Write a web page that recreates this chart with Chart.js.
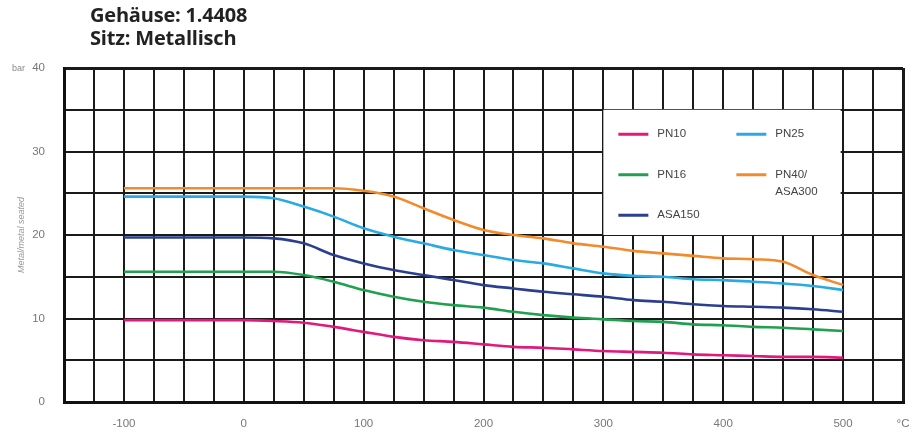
<!DOCTYPE html>
<html>
<head>
<meta charset="utf-8">
<script src="https://cdn.jsdelivr.net/npm/chart.js@4/dist/chart.umd.min.js"></script>
<style>
  html, body { margin: 0; padding: 0; background: #fff; }
  #wrap { position: relative; width: 916px; height: 435px; }
  #head { position: absolute; left: 90px; top: 3px; font-family: "Open Sans", sans-serif; font-weight: 700; font-size: 20px; line-height: 23px; color: #222; letter-spacing: -0.2px; z-index: 2; }
</style>
</head>
<body>
<div id="wrap">
  <div id="head">Gehäuse: 1.4408<br>Sitz: Metallisch</div>
  <canvas id="chart" width="916" height="435"></canvas>
</div>
<script>
// Temperature points (°C) and pressure ratings (bar)
const temps  = [-100, 0, 25, 50, 75, 100, 125, 150, 175, 200, 225, 250, 275, 300, 325, 350, 375, 400, 425, 450, 475, 500];
const pn10   = [9.8, 9.8, 9.7, 9.5, 9.0, 8.4, 7.8, 7.4, 7.2, 6.9, 6.6, 6.5, 6.3, 6.1, 6.0, 5.9, 5.7, 5.6, 5.5, 5.4, 5.4, 5.3];
const pn16   = [15.6, 15.6, 15.6, 15.2, 14.4, 13.4, 12.6, 12.0, 11.6, 11.3, 10.8, 10.4, 10.1, 9.9, 9.7, 9.6, 9.3, 9.2, 9.0, 8.9, 8.7, 8.5];
const asa150 = [19.7, 19.7, 19.6, 19.0, 17.6, 16.6, 15.8, 15.2, 14.6, 14.0, 13.6, 13.2, 12.9, 12.6, 12.2, 12.0, 11.7, 11.5, 11.4, 11.3, 11.1, 10.8];
const pn25   = [24.6, 24.6, 24.4, 23.4, 22.2, 20.8, 19.8, 19.0, 18.2, 17.6, 17.0, 16.6, 16.0, 15.4, 15.1, 15.0, 14.7, 14.6, 14.4, 14.2, 13.9, 13.4];
const pn40   = [25.6, 25.6, 25.6, 25.6, 25.6, 25.3, 24.6, 23.2, 21.8, 20.6, 20.0, 19.6, 19.0, 18.6, 18.1, 17.8, 17.5, 17.2, 17.1, 16.8, 15.2, 14.0];

const xLabels = [-100, 0, 100, 200, 300, 400, 500];
const yLabels = [0, 10, 20, 30, 40];

const pts = arr => arr.map((v, i) => ({ x: temps[i], y: v }));

function series(label, arr, color) {
  return {
    label: label,
    data: pts(arr),
    borderColor: color,
    backgroundColor: color,
    borderWidth: 2.6,
    pointRadius: 0,
    fill: false,
    cubicInterpolationMode: 'monotone'
  };
}

// legend box drawn inside the plot (two columns, like the original)
const boxLegend = {
  id: 'boxLegend',
  afterDatasetsDraw(chart) {
    const { ctx, scales: { x, y } } = chart;
    const l = x.getPixelForValue(300), r = x.getPixelForValue(498);
    const t = y.getPixelForValue(35), b = y.getPixelForValue(20);
    ctx.save();
    ctx.fillStyle = '#fff';
    ctx.fillRect(l, t, r - l, b - t);
    const ds = chart.data.datasets;
    const slots = [
      { i: 0, col: 0, row: 0 }, { i: 3, col: 1, row: 0 },
      { i: 1, col: 0, row: 1 }, { i: 4, col: 1, row: 1 },
      { i: 2, col: 0, row: 2 }
    ];
    ctx.font = '11.5px "Liberation Sans", Arial, sans-serif';
    ctx.textBaseline = 'middle';
    slots.forEach(s => {
      const lx = l + 15 + s.col * 118;
      const ly = t + 24.5 + s.row * 40.5;
      ctx.strokeStyle = ds[s.i].borderColor;
      ctx.lineWidth = 3;
      ctx.beginPath();
      ctx.moveTo(lx, ly);
      ctx.lineTo(lx + 30, ly);
      ctx.stroke();
      ctx.fillStyle = '#444';
      ds[s.i].label.split('\n').forEach((line, k) => ctx.fillText(line, lx + 39, ly + k * 17));
    });
    // unit next to the top y tick
    ctx.fillStyle = '#888';
    ctx.font = '9px "Liberation Sans", Arial, sans-serif';
    ctx.textAlign = 'right';
    ctx.fillText('bar', 25, y.getPixelForValue(40) + 1);
    ctx.restore();
  }
};

const edge = (c, lo, hi) => (c.tick && (c.tick.value === lo || c.tick.value === hi)) ? 3 : 2;

new Chart(document.getElementById('chart'), {
  type: 'line',
  data: {
    datasets: [
      series('PN10', pn10, '#e0197d'),
      series('PN16', pn16, '#21a04f'),
      series('ASA150', asa150, '#2c3f8f'),
      series('PN25', pn25, '#29abe2'),
      series('PN40/\nASA300', pn40, '#f18b2c')
    ]
  },
  options: {
    responsive: false,
    animation: false,
    layout: { padding: { top: 68, right: 13, left: 0, bottom: 0 } },
    plugins: { legend: { display: false }, tooltip: { enabled: false } },
    scales: {
      x: {
        type: 'linear',
        min: -150, max: 550,
        afterFit: s => { s.height = 33; s.paddingLeft = 0; s.paddingRight = 0; },
        border: { display: true, color: '#111', width: 3 },
        grid: { color: '#1a1a1a', lineWidth: c => edge(c, -150, 550), drawTicks: false },
        ticks: {
          stepSize: 25, autoSkip: false, maxRotation: 0, padding: 15,
          color: '#777', font: { family: '"Liberation Sans", Arial, sans-serif', size: 11.5 },
          callback: v => v === 550 ? '°C' : (xLabels.includes(v) ? String(v) : '')
        }
      },
      y: {
        min: 0, max: 40,
        afterFit: s => { s.width = 64; },
        border: { display: true, color: '#111', width: 3 },
        grid: { color: '#1a1a1a', lineWidth: c => edge(c, 0, 40), drawTicks: false },
        title: {
          display: true, text: 'Metal/metal seated', color: '#999',
          font: { family: '"Liberation Sans", Arial, sans-serif', size: 9, style: 'italic' },
          padding: { top: 16, bottom: 0 }
        },
        ticks: {
          stepSize: 5, autoSkip: false, padding: 19,
          color: '#777', font: { family: '"Liberation Sans", Arial, sans-serif', size: 11.5 },
          callback: v => yLabels.includes(v) ? String(v) : ''
        }
      }
    }
  },
  plugins: [boxLegend]
});
</script>
</body>
</html>
